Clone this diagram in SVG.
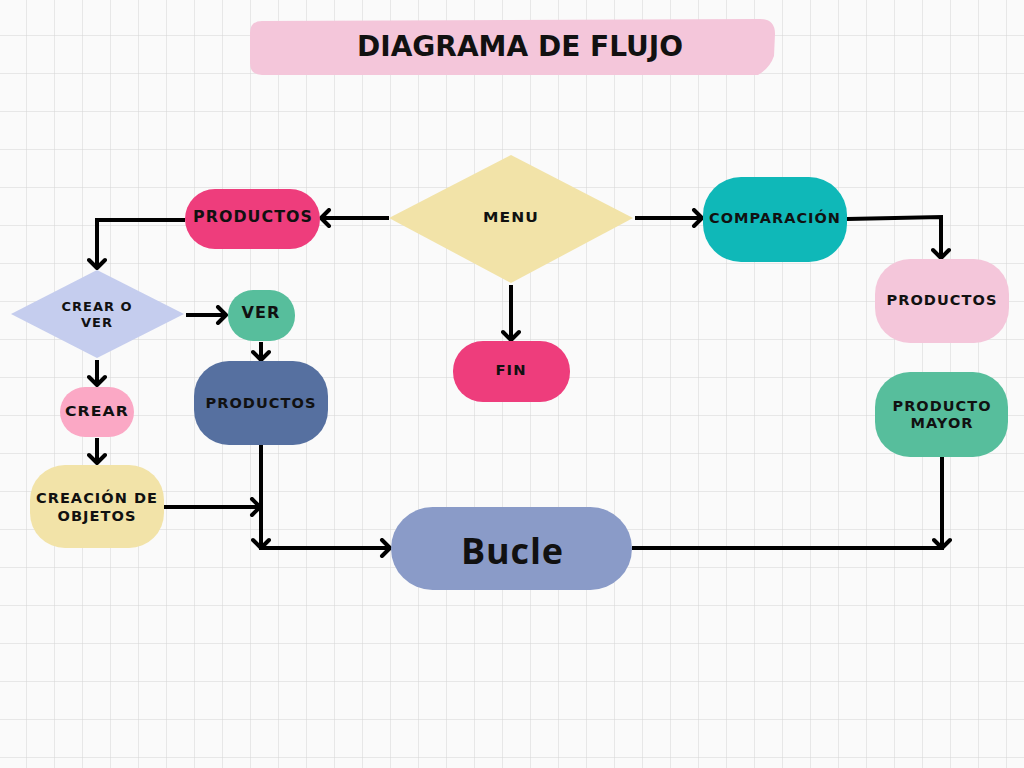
<svg xmlns="http://www.w3.org/2000/svg" width="1024" height="768" viewBox="0 0 1024 768">
<defs>
<pattern id="grid" width="28" height="38" patternUnits="userSpaceOnUse" x="-2" y="-3">
<path d="M0 0H28M0 0V38" fill="none" stroke="#d4d4d4" stroke-width="1"/>
</pattern>
<marker id="arr" markerUnits="userSpaceOnUse" markerWidth="16" markerHeight="20" refX="12" refY="10" orient="auto" viewBox="0 0 16 20">
<path d="M4 2L12 10L4 18" fill="none" stroke="#000" stroke-width="4" stroke-linecap="round" stroke-linejoin="round"/>
</marker>
</defs>
<style>
.lbl{font-family:"DejaVu Sans","Liberation Sans",sans-serif;font-weight:bold;font-size:14px;letter-spacing:1px;fill:#111;text-anchor:middle;dominant-baseline:central}
.con{fill:none;stroke:#000;stroke-width:4;stroke-linejoin:miter}
.arrow{marker-end:url(#arr)}
</style>
<rect width="1024" height="768" fill="#fafafa"/>
<rect width="1024" height="768" fill="url(#grid)"/>

<g id="title">
<path d="M262 21 L760 19 Q775 19 775 34 L774 56 Q770 68 758 75 L262 75 Q250 75 250 63 L250 33 Q250 21 262 21Z" fill="#f4c6da"/>
<text x="520" y="46" class="lbl" style="font-size:28px;letter-spacing:0" textLength="326" lengthAdjust="spacingAndGlyphs">DIAGRAMA DE FLUJO</text>
</g>

<g id="connectors">
<path class="con arrow" d="M389 218H321"/>
<path class="con arrow" d="M185 220H97V268"/>
<path class="con arrow" d="M635 218H702"/>
<path class="con arrow" d="M847 219L941 217V258"/>
<path class="con arrow" d="M511 285V340"/>
<path class="con arrow" d="M186 315H226"/>
<path class="con arrow" d="M261 342V360"/>
<path class="con arrow" d="M97 360V385"/>
<path class="con arrow" d="M97 438V463"/>
<path class="con arrow" d="M164 507H260"/>
<path class="con arrow" d="M261 445V548"/>
<path class="con arrow" d="M259 548H390"/>
<path class="con" d="M632 548H944"/>
<path class="con arrow" d="M942 457V548"/>
</g>

<g id="menu">
<polygon points="389,218 511,155 633,218 511,283" fill="#f2e3a8"/>
<text x="511" y="217" class="lbl" textLength="56" lengthAdjust="spacingAndGlyphs">MENU</text>
</g>
<g id="productos1">
<rect x="185" y="189" width="135" height="60" rx="30" fill="#ee3d7c"/>
<text x="253" y="217" class="lbl" style="font-size:15px" textLength="120" lengthAdjust="spacingAndGlyphs">PRODUCTOS</text>
</g>
<g id="comparacion">
<rect x="703" y="177" width="144" height="85" rx="38" fill="#0fb8b8"/>
<text x="775" y="218" class="lbl" textLength="132" lengthAdjust="spacingAndGlyphs">COMPARACIÓN</text>
</g>
<g id="crear-o-ver">
<polygon points="11,314 97,270 184,314 97,358" fill="#c5cdee"/>
<text x="97" y="306" class="lbl" style="font-size:13px" textLength="71" lengthAdjust="spacingAndGlyphs">CREAR O</text>
<text x="97" y="322" class="lbl" style="font-size:13px" textLength="32" lengthAdjust="spacingAndGlyphs">VER</text>
</g>
<g id="ver">
<rect x="228" y="290" width="67" height="51" rx="25" fill="#57be9c"/>
<text x="261" y="313" class="lbl" style="font-size:15px" textLength="39" lengthAdjust="spacingAndGlyphs">VER</text>
</g>
<g id="productos2">
<rect x="194" y="361" width="134" height="84" rx="35" fill="#5670a0"/>
<text x="261" y="403" class="lbl" textLength="111" lengthAdjust="spacingAndGlyphs">PRODUCTOS</text>
</g>
<g id="fin">
<rect x="453" y="341" width="117" height="61" rx="30" fill="#ee3d7c"/>
<text x="511" y="370" class="lbl" textLength="31" lengthAdjust="spacingAndGlyphs">FIN</text>
</g>
<g id="crear">
<rect x="60" y="387" width="74" height="50" rx="25" fill="#fba8c5"/>
<text x="97" y="411" class="lbl" textLength="64" lengthAdjust="spacingAndGlyphs">CREAR</text>
</g>
<g id="creacion">
<rect x="30" y="465" width="134" height="83" rx="35" fill="#f2e3a8"/>
<text x="97" y="498" class="lbl" textLength="122" lengthAdjust="spacingAndGlyphs">CREACIÓN DE</text>
<text x="97" y="516" class="lbl" textLength="79" lengthAdjust="spacingAndGlyphs">OBJETOS</text>
</g>
<g id="bucle">
<rect x="391" y="507" width="241" height="83" rx="41.5" fill="#8a9bc8"/>
<text x="512" y="550" class="lbl" style="font-family:'Open Sans','DejaVu Sans',sans-serif;font-size:36px;letter-spacing:0" textLength="102">Bucle</text>
</g>
<g id="productos3">
<rect x="875" y="259" width="134" height="84" rx="35" fill="#f4c6da"/>
<text x="942" y="300" class="lbl" textLength="111" lengthAdjust="spacingAndGlyphs">PRODUCTOS</text>
</g>
<g id="producto-mayor">
<rect x="875" y="372" width="133" height="85" rx="35" fill="#57be9c"/>
<text x="942" y="406" class="lbl" textLength="99" lengthAdjust="spacingAndGlyphs">PRODUCTO</text>
<text x="942" y="423" class="lbl" textLength="63" lengthAdjust="spacingAndGlyphs">MAYOR</text>
</g>
</svg>
